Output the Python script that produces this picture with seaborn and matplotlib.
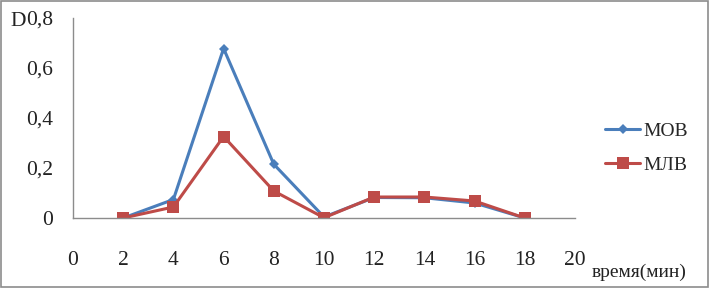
import matplotlib
matplotlib.use("Agg")
import matplotlib.pyplot as plt
import seaborn as sns
import pandas as pd
from matplotlib.ticker import FuncFormatter

time_min = [2, 4, 6, 8, 10, 12, 14, 16, 18]
mov = [0.0, 0.074, 0.678, 0.215, 0.004, 0.082, 0.081, 0.060, 0.0]
mlv = [0.0, 0.044, 0.326, 0.108, 0.001, 0.084, 0.084, 0.068, 0.0]
series_names = ["МОВ", "МЛВ"]
x_ticks = [0, 2, 4, 6, 8, 10, 12, 14, 16, 18, 20]
y_ticks = [0, 0.2, 0.4, 0.6, 0.8]

df = pd.DataFrame({
    "t": time_min * 2,
    "D": mov + mlv,
    "series": [series_names[0]] * len(time_min) + [series_names[1]] * len(time_min),
})

sns.set_theme(style="white")
plt.rcParams["font.family"] = ["Liberation Serif", "DejaVu Serif"]

fig = plt.figure(figsize=(7.09, 2.88), dpi=100)
ax = fig.add_axes([73 / 709, 70 / 288, 502 / 709, 200 / 288])

palette = {series_names[0]: "#4A7EBB", series_names[1]: "#BE4B48"}
sns.lineplot(data=df, x="t", y="D", hue="series", style="series",
             markers={series_names[0]: "D", series_names[1]: "s"},
             dashes=False, palette=palette, linewidth=2.2, ax=ax,
             markeredgewidth=0, legend=True)
for line in ax.lines:
    if line.get_marker() == "D":
        line.set_markersize(5.5)
    else:
        line.set_markersize(8)

ax.set_xlim(0, 20)
ax.set_ylim(0, 0.8)
ax.set_xticks(x_ticks)
ax.set_yticks(y_ticks)
fmt = FuncFormatter(lambda v, p: ("0" if v == 0 else f"{v:.1f}".replace(".", ",")))
ax.yaxis.set_major_formatter(fmt)
ax.xaxis.set_major_formatter(FuncFormatter(lambda v, p: f"{int(v)}"))

for s in ["top", "right"]:
    ax.spines[s].set_visible(False)
for s in ["left", "bottom"]:
    ax.spines[s].set_color("#8C8C8C")
    ax.spines[s].set_linewidth(1.0)
ax.tick_params(axis="both", which="major", direction="out", length=5, width=1.0,
               color="#8C8C8C", labelsize=15.5, labelcolor="#222222")
ax.tick_params(axis="x", pad=19)
ax.tick_params(axis="y", pad=9.5)
ax.set_xlabel("")
ax.set_ylabel("")

leg = ax.legend(loc="center left", bbox_to_anchor=(605 / 709, 1 - 148 / 288),
                bbox_transform=fig.transFigure, frameon=False,
                fontsize=14, handlelength=1.8, handletextpad=0.15,
                labelspacing=0.85, borderpad=0, borderaxespad=0)
for h in leg.legend_handles:
    h.set_linewidth(2.2)

fig.text(592 / 709, 1 - 272 / 288, "время(мин)", fontsize=14, va="center",
         ha="left", color="#222222")
fig.text(10 / 709, 1 - 21 / 288, "D", fontsize=15.5, va="center", ha="left",
         color="#222222")

fig.patches.append(plt.Rectangle((0.001, 0.002), 0.997, 0.995, transform=fig.transFigure,
                                 fill=False, edgecolor="#8C8C8C", linewidth=1.2))

fig.savefig("out.png", dpi=100)
